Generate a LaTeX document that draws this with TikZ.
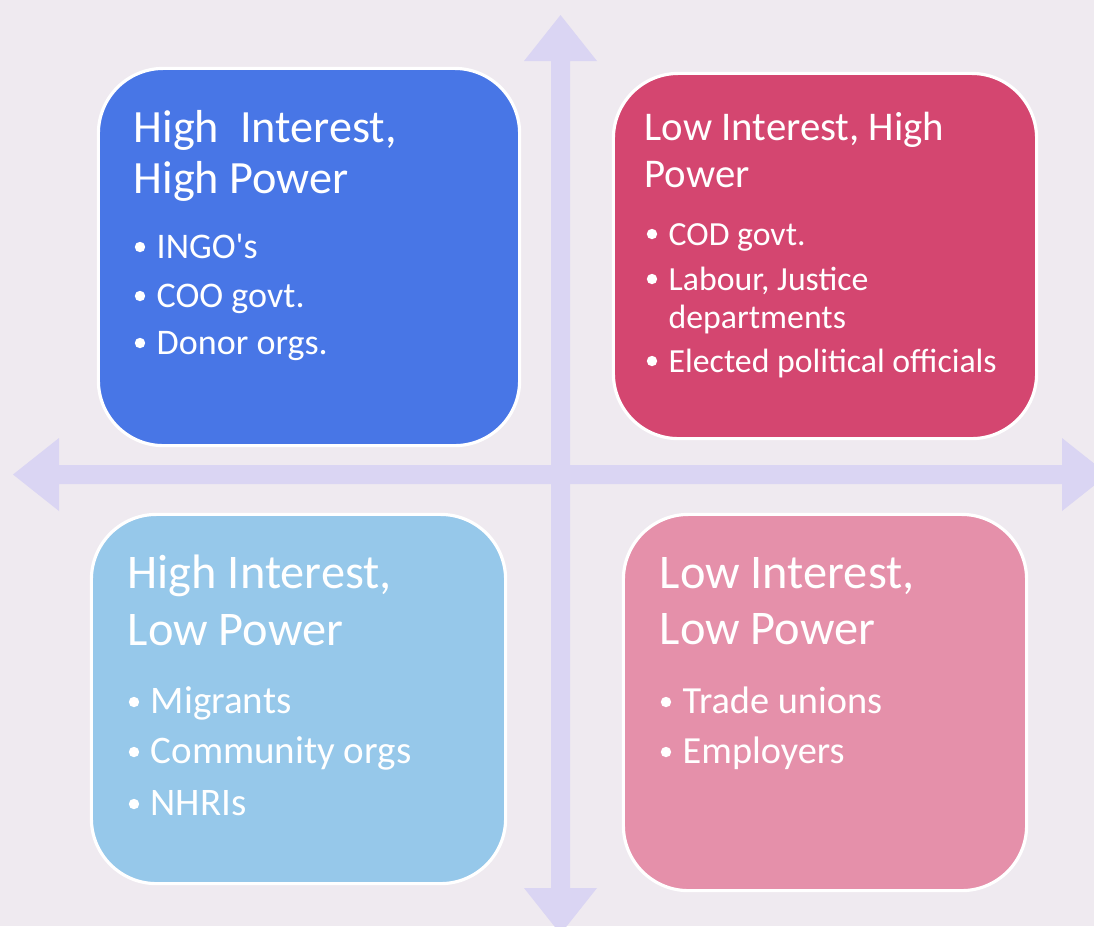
\documentclass[tikz,border=0pt]{standalone}
\usepackage{fontspec}
\setmainfont{Carlito}
\definecolor{paperBg}{RGB}{239,234,240}
\definecolor{axisCol}{RGB}{218,213,243}
\definecolor{hihpCol}{RGB}{72,118,230}
\definecolor{lihpCol}{RGB}{212,70,112}
\definecolor{hilpCol}{RGB}{150,200,234}
\definecolor{lilpCol}{RGB}{229,144,170}

\begin{document}
\begin{tikzpicture}[x = 0.01cm, y = -0.01cm]
	\tikzstyle{quadStyle}=[rounded corners = 6.5mm, draw = white, line width = 0.9pt, inner sep = 0pt]
	\tikzstyle{lineStyle}=[anchor = base west, inner sep = 0pt, text = white]
	\tikzstyle{titleBig}=[lineStyle, font = \fontsize{13.75}{14}\selectfont]
	\tikzstyle{titleMid}=[lineStyle, font = \fontsize{13.15}{14}\selectfont]
	\tikzstyle{titleSmall}=[lineStyle, font = \fontsize{11.6}{12}\selectfont]
	\useasboundingbox (0,0) rectangle (1094,926);
	\fill[paperBg] (0,0) rectangle (1094,926);
	\clip (0,0) rectangle (1094,926);
	% axes
	\fill[axisCol] (560.5,15) -- (597,61) -- (570,61) -- (570,888) -- (597,888) -- (560.5,934)
		-- (524,888) -- (551,888) -- (551,61) -- (524,61) -- cycle;
	\fill[axisCol] (13,474.5) -- (59,438) -- (59,465) -- (1062,465) -- (1062,438) -- (1108,474.5)
		-- (1062,511) -- (1062,484) -- (59,484) -- (59,511) -- cycle;
	% quadrants
	\node[quadStyle, fill = hihpCol, minimum width = 4.21cm, minimum height = 3.77cm] (hihp) at (309,257) {};
	\node[quadStyle, fill = lihpCol, minimum width = 4.23cm, minimum height = 3.65cm] (lihp) at (825,256) {};
	\node[quadStyle, fill = hilpCol, minimum width = 4.14cm, minimum height = 3.69cm] (hilp) at (298.5,699) {};
	\node[quadStyle, fill = lilpCol, minimum width = 4.03cm, minimum height = 3.76cm] (lilp) at (825,702.5) {};
	% high interest, high power
	\node[titleMid] (t1a) at (133,142) {High\ \ Interest,};
	\node[titleMid] (t1b) at (133,193) {High Power};
	\node[lineStyle, font = \fontsize{10.25}{12}\selectfont] (i1a) at (156,258) {INGO\textquotesingle s};
	\node[lineStyle, font = \fontsize{10.25}{12}\selectfont] (i1b) at (156,307) {COO govt.};
	\node[lineStyle, font = \fontsize{10.25}{12}\selectfont] (i1c) at (156,354) {Donor orgs.};
	% low interest, high power
	\node[titleSmall] (t2a) at (644,140) {Low Interest, High};
	\node[titleSmall] (t2b) at (644,187) {Power};
	\node[lineStyle, font = \fontsize{9.6}{11}\selectfont] (i2a) at (668,245) {COD govt.};
	\node[lineStyle, font = \fontsize{9.6}{11}\selectfont] (i2b) at (668,290) {Labour, Justice};
	\node[lineStyle, font = \fontsize{9.6}{11}\selectfont] (i2c) at (668,328) {departments};
	\node[lineStyle, font = \fontsize{9.6}{11}\selectfont] (i2d) at (668,372) {Elected political officials};
	% high interest, low power
	\node[titleBig] (t3a) at (127,588) {High Interest,};
	\node[titleBig] (t3b) at (127,645) {Low Power};
	\node[lineStyle, font = \fontsize{11.1}{13}\selectfont] (i3a) at (150,713) {Migrants};
	\node[lineStyle, font = \fontsize{11.1}{13}\selectfont] (i3b) at (150,763) {Community orgs};
	\node[lineStyle, font = \fontsize{11.1}{13}\selectfont] (i3c) at (150,815) {NHRIs};
	% low interest, low power
	\node[titleBig] (t4a) at (659,588) {Low Interest,};
	\node[titleBig] (t4b) at (659,644) {Low Power};
	\node[lineStyle, font = \fontsize{10.9}{13}\selectfont] (i4a) at (682,713) {Trade unions};
	\node[lineStyle, font = \fontsize{10.9}{13}\selectfont] (i4b) at (682,763) {Employers};
	% bullets
	\foreach \it in {i1a, i1b, i1c, i2a, i2b, i2d, i3a, i3b, i3c, i4a, i4b}
		\fill[white] ([xshift = -0.16cm, yshift = 0.11cm]\it.base west) circle (0.52mm);
\end{tikzpicture}
\end{document}
